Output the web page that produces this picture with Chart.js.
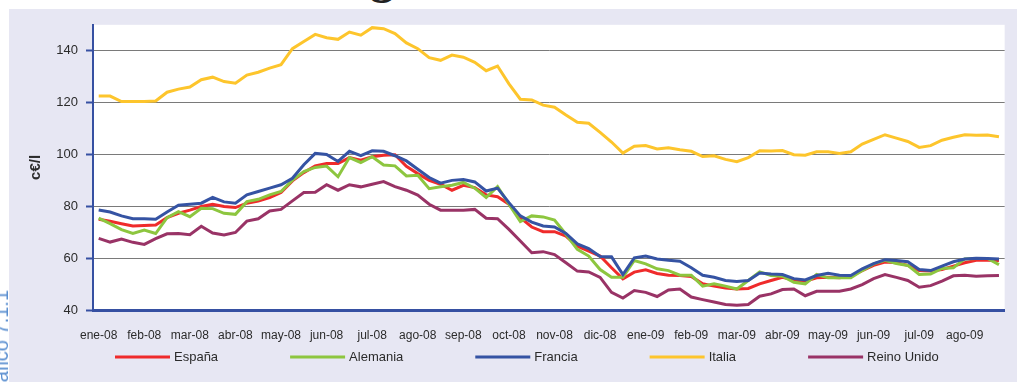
<!DOCTYPE html>
<html>
<head>
<meta charset="utf-8">
<script src="https://cdn.jsdelivr.net/npm/chart.js@4"></script>
<style>
  body { margin: 0; width: 1017px; height: 382px; background: #fff; overflow: hidden; position: relative; }
  #panel { position: absolute; left: 9px; top: 9px; width: 1008px; height: 373px; background: #e7e7f3; }
  #side { position: absolute; left: -9px; top: 290px; white-space: nowrap; font: 20px/20px "Liberation Sans"; color: #5b8fd0;
          transform-origin: 0 0; transform: rotate(-90deg) translateX(-100%); }
  #head { position: absolute; left: 370px; top: -47px; font: bold 48px/48px "Liberation Serif"; color: #222; }
</style>
</head>
<body>
<div id="panel"><canvas id="precios" width="1008" height="373"></canvas></div>
<div id="head">g</div>
<div id="side">Gráfico 7.1.1</div>
<script>
// Month tick labels, one label every four weekly points
const months = ['ene-08', 'feb-08', 'mar-08', 'abr-08', 'may-08', 'jun-08', 'jul-08', 'ago-08', 'sep-08', 'oct-08',
  'nov-08', 'dic-08', 'ene-09', 'feb-09', 'mar-09', 'abr-09', 'may-09', 'jun-09', 'jul-09', 'ago-09'];

// Weekly prices, c€/l
const espana = [75, 74.2, 73.3, 72.4, 72.6, 72.8, 75.6, 77.3, 78.5, 79.9, 80.8, 79.9, 79.5, 81.2, 82, 83.4, 85.3, 89.8, 93, 95.6,
  96.5, 96.5, 98.8, 97.8, 99.1, 99.7, 99.9, 95.4, 92.6, 90, 88.5, 86.2, 88.1, 87.2, 84.4, 83.7, 80.8, 75.6, 72, 70.2,
  70.2, 68.5, 64.6, 62.7, 60.8, 56.3, 52, 54.6, 55.5, 54.1, 53.4, 53.3, 52.9, 50.1, 49.2, 48.5, 48.1, 48.3, 50.1, 51.4,
  52.6, 51.6, 51.1, 52.4, 52.6, 52.4, 53, 55.2, 57.2, 58.5, 58.2, 57.2, 55.2, 55, 55.6, 56.9, 58.2, 59.2, 59.2, 59.1];
const alemania = [75.4, 73.3, 71, 69.5, 70.8, 69.5, 75.6, 77.9, 76, 79.2, 79.1, 77.3, 76.9, 81.8, 82.7, 84.4, 85.7, 90.1, 93.4, 95,
  95.5, 91.4, 98.8, 96.9, 99.1, 95.9, 95.6, 91.7, 92, 86.8, 87.5, 88.1, 89.2, 87, 83.4, 87.6, 80.8, 74.1, 76.3, 75.9,
  74.7, 69.2, 63.4, 60.8, 55.6, 52.6, 52.6, 59.1, 57.8, 55.9, 55.2, 53.4, 53.4, 49.2, 50.1, 49.2, 48.1, 51.4, 54.7, 53.3,
  53, 50.7, 50.1, 53.7, 52.4, 52.4, 52.4, 55.2, 57.8, 59.2, 57.9, 57.2, 53.7, 53.9, 56, 56.3, 59.7, 59.9, 59.9, 57.5];
const francia = [78.6, 77.8, 76.3, 75.2, 75.2, 75, 77.8, 80.4, 80.8, 81.2, 83.4, 81.7, 81.2, 84.4, 85.7, 87, 88.3, 90.8, 96, 100.4,
  100, 97.3, 101.2, 99.5, 101.4, 101.2, 99.5, 97.5, 94.3, 91.1, 88.9, 90, 90.3, 89.4, 85.9, 87, 81.4, 76.3, 73.9, 72.4,
  72, 69.5, 65.5, 63.7, 60.6, 60.5, 53.7, 60.1, 60.8, 59.7, 59.2, 58.8, 56.3, 53.4, 52.6, 51.4, 51, 51.4, 54.3, 53.9,
  53.7, 52.1, 51.6, 53.3, 54.2, 53.4, 53.3, 55.9, 57.9, 59.4, 59.1, 58.6, 55.6, 55.2, 56.9, 58.6, 59.7, 60, 59.9, 59.7];
const italia = [122.5, 122.5, 120.4, 120.4, 120.4, 120.6, 124, 125.2, 126, 128.8, 129.8, 128.1, 127.5, 130.6, 131.7, 133.3, 134.6, 140.8, 143.6, 146.3,
  145, 144.4, 147.2, 146, 148.9, 148.5, 146.6, 143, 140.8, 137.3, 136.3, 138.3, 137.5, 135.5, 132.3, 134.1, 127.2, 121.3, 121, 119,
  118.2, 115.2, 112.4, 112, 108.5, 104.8, 100.5, 103.2, 103.4, 102.1, 102.6, 101.8, 101.2, 99.2, 99.5, 98.1, 97.2, 98.8, 101.4, 101.3,
  101.5, 99.9, 99.7, 101, 101, 100.4, 101, 104, 105.8, 107.6, 106.3, 105, 102.7, 103.4, 105.5, 106.6, 107.6, 107.4, 107.5, 106.8];
const reinoUnido = [67.6, 66.2, 67.4, 66.1, 65.3, 67.5, 69.4, 69.5, 69, 72.3, 69.7, 68.9, 69.9, 74.3, 75.2, 78.2, 78.8, 82.1, 85.3, 85.4,
  88.3, 86.2, 88.3, 87.5, 88.5, 89.5, 87.6, 86.2, 84.3, 80.8, 78.5, 78.5, 78.5, 78.8, 75.4, 75.2, 71.1, 66.6, 62.1, 62.5,
  61.4, 58.2, 55, 54.7, 52.6, 46.8, 44.6, 47.5, 46.8, 45.2, 47.7, 48.1, 45, 44, 43.1, 42.1, 41.8, 42.1, 45.3, 46.2,
  47.9, 48.1, 45.5, 47.2, 47.2, 47.2, 48.1, 49.8, 52.1, 53.7, 52.6, 51.4, 48.8, 49.4, 51.1, 53.2, 53.4, 53, 53.2, 53.3];

// four weeks per month, the month name sits on the first one
const labels = [];
months.forEach(m => labels.push(m, '', '', ''));

const AXIS_BLUE = '#3650a2';
const FONT = '"Liberation Sans Narrow", "Liberation Sans", sans-serif';

function serie(label, data, color, order) {
  return { label, data, borderColor: color, backgroundColor: color, borderWidth: 3,
    pointRadius: 0, tension: 0, order };
}

// white plotting area on the lavender panel
const plotBackground = {
  id: 'plotBackground',
  beforeDraw(chart) {
    const { ctx, chartArea: a } = chart;
    ctx.save();
    ctx.fillStyle = '#fff';
    ctx.fillRect(a.left, a.top, a.right - a.left, a.bottom - a.top);
    ctx.restore();
  }
};

// legend row: a short line then the series name
const legendLines = {
  id: 'legendLines',
  afterDraw(chart) {
    const ctx = chart.ctx;
    let x = 106;
    const y = 348;
    ctx.save();
    ctx.font = '13px ' + FONT;
    ctx.textBaseline = 'middle';
    chart.data.datasets.forEach(ds => {
      ctx.strokeStyle = ds.borderColor;
      ctx.lineWidth = 3;
      ctx.beginPath();
      ctx.moveTo(x, y);
      ctx.lineTo(x + 55, y);
      ctx.stroke();
      ctx.fillStyle = '#2b2b2b';
      ctx.fillText(ds.label, x + 59, y);
      x += 59 + ctx.measureText(ds.label).width + 72;
    });
    ctx.restore();
  }
};

new Chart(document.getElementById('precios'), {
  type: 'line',
  data: {
    labels,
    datasets: [
      serie('España', espana, '#ef2b2b', 5),
      serie('Alemania', alemania, '#8dc63f', 4),
      serie('Francia', francia, '#3553a3', 3),
      serie('Italia', italia, '#fdc52c', 2),
      serie('Reino Unido', reinoUnido, '#993366', 1)
    ]
  },
  options: {
    responsive: false,
    devicePixelRatio: 1,
    animation: false,
    layout: { padding: { left: 0, top: 14, right: 5, bottom: 40 } },
    plugins: { legend: { display: false }, tooltip: { enabled: false } },
    scales: {
      x: {
        offset: true,
        afterFit: s => { s.height = 32; },
        grid: { display: false, drawTicks: false },
        border: { color: AXIS_BLUE, width: 3 },
        ticks: { autoSkip: false, maxRotation: 0, padding: 18, color: '#2b2b2b', font: { family: FONT, size: 12 } }
      },
      y: {
        min: 40,
        max: 150,
        afterFit: s => { s.width = 84; },
        afterBuildTicks: s => { s.ticks = s.ticks.filter(t => t.value % 20 === 0); },
        grid: { color: '#7a7a7a', lineWidth: 1, tickColor: AXIS_BLUE, tickWidth: 2, tickLength: 7 },
        border: { color: AXIS_BLUE, width: 2 },
        ticks: { stepSize: 20, padding: 8, color: '#2b2b2b', font: { family: FONT, size: 13 } },
        title: { display: true, text: 'c€/l', color: '#2b2b2b', padding: { top: 18, bottom: 0 },
          font: { family: FONT, size: 15, weight: 'bold' } }
      }
    }
  },
  plugins: [plotBackground, legendLines]
});
</script>
</body>
</html>
